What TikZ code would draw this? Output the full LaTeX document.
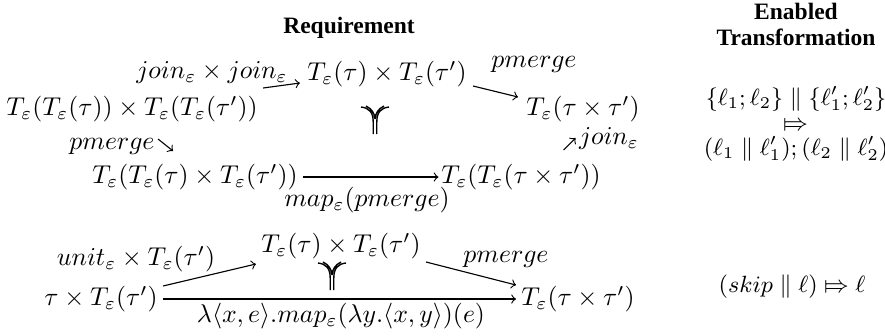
\documentclass[tikz,border=0pt]{standalone}
\usepackage{fix-cm}
\usepackage{amssymb}
\usepackage{stmaryrd}
\usepackage{fontspec}
\newfontfamily\headfont{Liberation Serif}
\usetikzlibrary{positioning}

\begin{document}
\begin{tikzpicture}[x=.4pt,y=-.4pt,
      obj/.style={font=\fontsize{10.3}{12}\selectfont, inner sep=0pt},
      lbl/.style={font=\fontsize{10.3}{12}\selectfont, inner sep=0pt},
      head/.style={font=\headfont\fontsize{9.4}{10.4}\selectfont\bfseries,
        align=center, inner sep=0pt},
      rewrite/.style={font=\fontsize{9.4}{11}\selectfont, inner sep=0pt},
      arr/.style={->, line width=.45pt},
      dblvee/.pic={
        \draw[line width=.55pt]
          (-1.8,14) -- (-1.8,2) .. controls (-1.8,-8) and (-6,-12) .. (-14,-13)
          (1.8,14) -- (1.8,2) .. controls (1.8,-8) and (6,-12) .. (14,-13)
          (0,-1) .. controls (-.6,-7) and (-3,-11) .. (-9,-14)
          (0,-1) .. controls (.6,-7) and (3,-11) .. (9,-14);}]
      \useasboundingbox (0,0) rectangle (885,335);
      \fill[white] (0,0) rectangle (885,335);

      % headers
      \node[head] (req) at (349,28) {Requirement};
      \node[head] (enab) at (796,24) {Enabled\\Transformation};

      % join / pmerge square
      \node[obj] (A) at (132,109)
        {$T_\varepsilon(T_\varepsilon(\tau))\times T_\varepsilon(T_\varepsilon(\tau'))$};
      \node[obj] (B) at (387,74) {$T_\varepsilon(\tau)\times T_\varepsilon(\tau')$};
      \node[obj] (C) at (583,109) {$T_\varepsilon(\tau\times\tau')$};
      \node[obj] (D) at (195,177)
        {$T_\varepsilon(T_\varepsilon(\tau)\times T_\varepsilon(\tau'))$};
      \node[obj] (E) at (521,177) {$T_\varepsilon(T_\varepsilon(\tau\times\tau'))$};

      \node[lbl] (lAB) at (212,73) {$join_\varepsilon\times join_\varepsilon$};
      \node[lbl] (lBC) at (534,64) {$pmerge$};
      \node[lbl] (lAD) at (112,146) {$pmerge$};
      \node[lbl] (lDE) at (367,200) {$map_\varepsilon(pmerge)$};
      \node[lbl] (lEC) at (609,139) {$join_\varepsilon$};

      \draw[arr] ([shift={(5,-21)}]A.east) -- ([shift={(-7,9)}]B.west);
      \draw[arr] ([shift={(6,12)}]B.east) -- ([shift={(-8,-12)}]C.west);
      \draw[arr] ([shift={(3,-7)}]lAD.east) -- ++(15,12);
      \draw[arr] ([shift={(-15,11)}]lEC.west) -- ++(12,-12);
      \draw[arr] ([xshift=2pt]D.east) -- ([xshift=-1pt]E.west);
      \pic at (375,120) {dblvee};

      % unit / pmerge triangle
      \node[obj] (P) at (101,299) {$\tau\times T_\varepsilon(\tau')$};
      \node[obj] (Q) at (341,246) {$T_\varepsilon(\tau)\times T_\varepsilon(\tau')$};
      \node[obj] (R) at (578,299) {$T_\varepsilon(\tau\times\tau')$};

      \node[lbl] (lPQ) at (136,259) {$unit_\varepsilon\times T_\varepsilon(\tau')$};
      \node[lbl] (lQR) at (506,259) {$pmerge$};
      \node[lbl] (lPR) at (341,316)
        {$\lambda\langle x,e\rangle.map_\varepsilon(\lambda y.\langle x,y\rangle)(e)$};

      \draw[arr] ([shift={(5,-13)}]P.east) -- ([shift={(-5,18)}]Q.west);
      \draw[arr] ([shift={(5,16)}]Q.east) -- ([shift={(-5,-14)}]R.west);
      \draw[arr] ([xshift=2pt]P.east) -- ([xshift=-2pt]R.west);
      \pic at (332,276) {dblvee};

      % enabled transformations
      \node[rewrite] (r1) at (796,99)
        {$\{\ell_1;\ell_2\}\parallel\{\ell'_1;\ell'_2\}$};
      \node[rewrite] (r2) at (796,126) {$\Mapsto$};
      \node[rewrite] (r3) at (796,149)
        {$(\ell_1\parallel\ell'_1);(\ell_2\parallel\ell'_2)$};
      \node[rewrite] (r4) at (792,287) {$(skip\parallel\ell)\Mapsto\ell$};
    \end{tikzpicture}
\end{document}
